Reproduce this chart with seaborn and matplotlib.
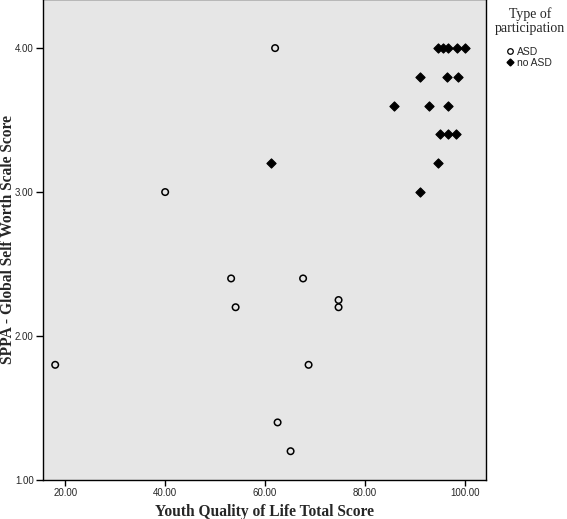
import matplotlib
matplotlib.use("Agg")
import matplotlib.pyplot as plt
import seaborn as sns
import pandas as pd
from matplotlib.ticker import FormatStrFormatter
from matplotlib.lines import Line2D

# ASD group (open circles)
asd_x = [18.0, 40.0, 53.2, 54.1, 62.0, 62.5, 65.1, 67.6, 68.7, 74.7, 74.7]
asd_y = [1.8, 3.0, 2.4, 2.2, 4.0, 1.4, 1.2, 2.4, 1.8, 2.25, 2.2]
# no ASD group (filled diamonds)
noasd_x = [61.2, 85.8, 91.0, 90.9, 92.7, 94.5, 94.9, 94.5, 95.5, 96.5, 96.3,
           96.5, 96.5, 98.3, 98.5, 98.2, 99.9]
noasd_y = [3.2, 3.6, 3.0, 3.8, 3.6, 3.2, 3.4, 4.0, 4.0, 4.0, 3.8,
           3.6, 3.4, 4.0, 3.8, 3.4, 4.0]
groups = ["ASD", "no ASD"]
x_ticks = [20, 40, 60, 80, 100]
y_ticks = [1, 2, 3, 4]
x_label = "Youth Quality of Life Total Score"
y_label = "SPPA - Global Self Worth Scale Score"
legend_title = "Type of\nparticipation"

df = pd.DataFrame({
    "x": asd_x + noasd_x,
    "y": asd_y + noasd_y,
    "grp": [groups[0]] * len(asd_x) + [groups[1]] * len(noasd_x),
})

sns.set_style("ticks")
W, H = 567, 519
fig = plt.figure(figsize=(W / 100, H / 100), dpi=100)
left_px, right_px, top_px, bottom_px = 42.7, 486.0, -1.0, 480.0
ax = fig.add_axes([left_px / W, 1 - bottom_px / H,
                   (right_px - left_px) / W, (bottom_px - top_px) / H])
ax.set_facecolor("#e6e6e6")

d1 = df[df.grp == groups[0]]
d2 = df[df.grp == groups[1]]
sns.scatterplot(data=d1, x="x", y="y", ax=ax, marker="o", s=22,
                facecolor="none", edgecolor="black", linewidth=1.1, legend=False)
sns.scatterplot(data=d2, x="x", y="y", ax=ax, marker="D", s=22,
                color="black", edgecolor="black", linewidth=0.8, legend=False)

ax.set_xlim(15.5, 104.2)
ax.set_ylim(1.0, 4.341)
ax.set_xticks(x_ticks)
ax.set_yticks(y_ticks)
ax.xaxis.set_major_formatter(FormatStrFormatter("%.2f"))
ax.yaxis.set_major_formatter(FormatStrFormatter("%.2f"))
ax.tick_params(axis="x", direction="out", length=4, width=1, color="black",
               labelsize=7, pad=2)
ax.tick_params(axis="y", direction="out", length=5, width=1, color="black",
               labelsize=7, pad=1.5)
for lab in ax.get_xticklabels() + ax.get_yticklabels():
    lab.set_family("Liberation Sans")
for sp in ax.spines.values():
    sp.set_visible(True)
    sp.set_color("black")
    sp.set_linewidth(1.0)

ax.set_xlabel(x_label, fontfamily="Liberation Serif", fontweight="bold",
              fontsize=11.2, labelpad=4)
ax.set_ylabel(y_label, fontfamily="Liberation Serif", fontweight="bold",
              fontsize=11.2)
ax.yaxis.set_label_coords((16 - left_px) / (right_px - left_px), 0.5)

# legend title as figure text, centred over the legend
fig.text(530 / W, 1 - 7 / H, legend_title, ha="center", va="top",
         fontfamily="Liberation Serif", fontsize=10, linespacing=1.15,
         multialignment="center")

handles = [
    Line2D([], [], marker="o", linestyle="none", markerfacecolor="none",
           markeredgecolor="black", markersize=4, markeredgewidth=0.9),
    Line2D([], [], marker="D", linestyle="none", color="black", markersize=3.5),
]
leg = fig.legend(handles, groups, loc="upper left",
                 bbox_to_anchor=(506 / W, 1 - 47 / H), frameon=False,
                 prop={"family": "Liberation Sans", "size": 7.5},
                 handletextpad=0.3, handlelength=0.8, borderaxespad=0,
                 borderpad=0, labelspacing=0.1)

fig.savefig("out.png", dpi=100)
